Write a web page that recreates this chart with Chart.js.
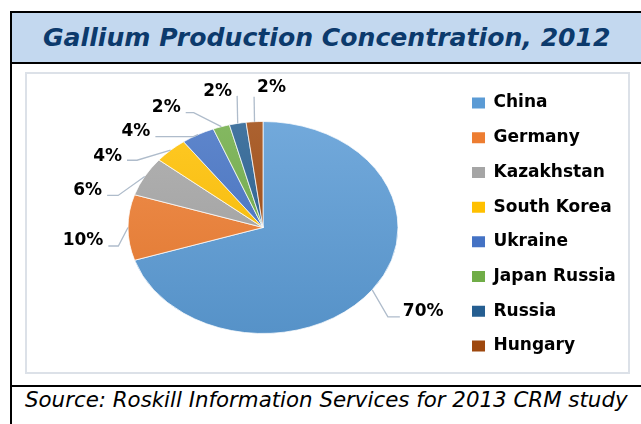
<!DOCTYPE html>
<html>
<head>
<meta charset="utf-8">
<script src="https://cdn.jsdelivr.net/npm/chart.js@4/dist/chart.umd.min.js"></script>
<style>
html,body{margin:0;padding:0;width:641px;height:424px;overflow:hidden;background:#fff;}
#frame{position:absolute;left:10px;top:11px;width:700px;height:500px;border-left:2px solid #000;border-top:2px solid #000;}
#band{position:absolute;left:12px;top:13px;width:700px;height:49px;background:#C3D8EF;}
.hline{position:absolute;left:12px;width:700px;height:2px;background:#000;}
#inner{position:absolute;left:25px;top:72px;width:605px;height:302px;border:2px solid #DCE1E8;box-sizing:border-box;}
.txt{position:absolute;white-space:nowrap;font-family:"DejaVu Sans";line-height:1;}
#title{font-weight:bold;font-style:italic;color:#0C3A6C;}
#source{font-style:italic;color:#000;}
#wrap{position:absolute;left:0;top:0;width:641px;height:424px;}
</style>
</head>
<body>
<div id="frame"></div>
<div id="band"></div>
<div class="hline" style="top:62px"></div>
<div class="hline" style="top:385px"></div>
<div id="inner"></div>
<div id="title" class="txt">Gallium Production Concentration, 2012</div>
<div id="source" class="txt">Source: Roskill Information Services for 2013 CRM study</div>
<div id="wrap"><canvas id="c"></canvas></div>
<script>
// ---- data ----
const categories = ['China', 'Germany', 'Kazakhstan', 'South Korea', 'Ukraine', 'Japan Russia', 'Russia', 'Hungary'];
const shares = [70, 10, 6, 4, 4, 2, 2, 2];
const colors = ['#5B9BD5', '#ED7D31', '#A5A5A5', '#FFC000', '#4472C4', '#70AD47', '#255E91', '#9E480E'];

// ---- style / layout ----
const ELLIPSE = {cx: 263, cy: 227.5, rx: 135, ry: 106};
// label offsets from slice edge point: [dx, dy, elbow length, leader y below label centre]
const labelOffsets = [[51, 22, 12, 5], [-45, 13.5, 10, 5], [-57, 14, 11, 5], [-63, 6, 10, 4],
                      [-62, -3, 38, 5], [-55, -19, 8, 5], [-20, -32, 0, 4.5], [17, -34, 0, 9]];
const LEG = {font: 17, box: 13, boxH: 11, pad: 17.71, left: 454.3};

function fitText(el, width, baseline, left) {
  el.style.fontSize = '100px';
  const w = el.getBoundingClientRect().width;
  const fs = 100 * width / w;
  el.style.fontSize = fs + 'px';
  el.style.left = left + 'px';
  el.style.top = (baseline - 0.846 * fs) + 'px';
}
fitText(document.getElementById('title'), 568, 46, 43);
fitText(document.getElementById('source'), 603, 407, 25);

// legend width (Chart.js: pad + box + font/2 + text + 10) -> right padding so legend starts at LEG.left
const mctx = document.createElement('canvas').getContext('2d');
mctx.font = 'bold ' + LEG.font + 'px "DejaVu Sans"';
const maxTextW = Math.max(...categories.map(c => mctx.measureText(c).width));
const legendW = LEG.pad + LEG.box + LEG.font / 2 + maxTextW + 10;
const padRight = Math.max(0, 641 - LEG.left - legendW);

function mix(hex, to, t) {
  const a = parseInt(hex.slice(1), 16), b = parseInt(to.slice(1), 16);
  const ch = (v, s) => (v >> s) & 255;
  const r = Math.round(ch(a,16) + (ch(b,16) - ch(a,16)) * t);
  const g = Math.round(ch(a,8) + (ch(b,8) - ch(a,8)) * t);
  const bl = Math.round(ch(a,0) + (ch(b,0) - ch(a,0)) * t);
  return 'rgb(' + r + ',' + g + ',' + bl + ')';
}

function sliceFill(context) {
  const chart = context.chart, ca = chart.chartArea;
  const base = colors[context.dataIndex];
  if (!ca) return base;
  const cy = (ca.top + ca.bottom) / 2, R = Math.min(ca.right - ca.left, ca.bottom - ca.top) / 2;
  const g = chart.ctx.createLinearGradient(0, cy - R, 0, cy + R);
  g.addColorStop(0, mix(base, '#ffffff', 0.14));
  g.addColorStop(1, mix(base, '#000000', 0.06));
  return g;
}

function geom(chart) {
  const arc = chart.getDatasetMeta(0).data[0];
  const R = arc.outerRadius;
  return {x: arc.x, y: arc.y, sx: ELLIPSE.rx / R, sy: ELLIPSE.ry / R};
}

function drawLabels(chart) {
  const ctx = chart.ctx, meta = chart.getDatasetMeta(0);
  ctx.save();
  ctx.font = 'bold 17px "DejaVu Sans"';
  meta.data.forEach((arc, i) => {
    const mid = (arc.startAngle + arc.endAngle) / 2;
    const ex = ELLIPSE.cx + ELLIPSE.rx * Math.cos(mid);
    const ey = ELLIPSE.cy + ELLIPSE.ry * Math.sin(mid);
    const [dx, dy, h, ly] = labelOffsets[i];
    const lx = ex + dx, lyc = ey + dy;
    const txt = shares[i] + '%';
    const w = ctx.measureText(txt).width;
    const onLeft = dx < 0;
    const ax = onLeft ? lx + w / 2 + 5 : lx - w / 2 - 3;
    const ay = lyc + ly;
    const bx = onLeft ? ax + h : ax - h;
    ctx.strokeStyle = '#AFBCCB';
    ctx.lineWidth = 1.3;
    ctx.beginPath();
    ctx.moveTo(ex, ey);
    ctx.lineTo(bx, ay);
    ctx.lineTo(ax, ay);
    ctx.stroke();
    ctx.fillStyle = '#000';
    ctx.textAlign = 'center';
    ctx.textBaseline = 'middle';
    ctx.fillText(txt, lx, lyc);
  });
  ctx.restore();
}

const ellipsePlugin = {
  id: 'ellipse',
  beforeDatasetsDraw(chart) {
    const g = geom(chart), c = chart.ctx;
    c.save();
    c.translate(ELLIPSE.cx, ELLIPSE.cy);
    c.scale(g.sx, g.sy);
    c.translate(-g.x, -g.y);
  },
  afterDatasetsDraw(chart) {
    chart.ctx.restore();
    drawLabels(chart);
  }
};

new Chart(document.getElementById('c'), {
  type: 'pie',
  data: {
    labels: categories,
    datasets: [{
      data: shares,
      backgroundColor: sliceFill,
      borderColor: '#ffffff',
      borderWidth: 1
    }]
  },
  options: {
    responsive: true,
    maintainAspectRatio: false,
    animation: false,
    events: [],
    layout: {padding: {left: 20, right: padRight, top: 60, bottom: 35}},
    plugins: {
      tooltip: {enabled: false},
      legend: {
        position: 'right',
        labels: {
          boxWidth: LEG.box,
          boxHeight: LEG.boxH,
          padding: LEG.pad,
          color: '#000',
          font: {family: 'DejaVu Sans', size: LEG.font, weight: 'bold'},
          generateLabels(chart) {
            const items = Chart.overrides.pie.plugins.legend.labels.generateLabels(chart);
            items.forEach((it, i) => { it.fillStyle = colors[i]; it.strokeStyle = colors[i]; it.lineWidth = 0; });
            return items;
          }
        }
      }
    }
  },
  plugins: [ellipsePlugin]
});
</script>
</body>
</html>
